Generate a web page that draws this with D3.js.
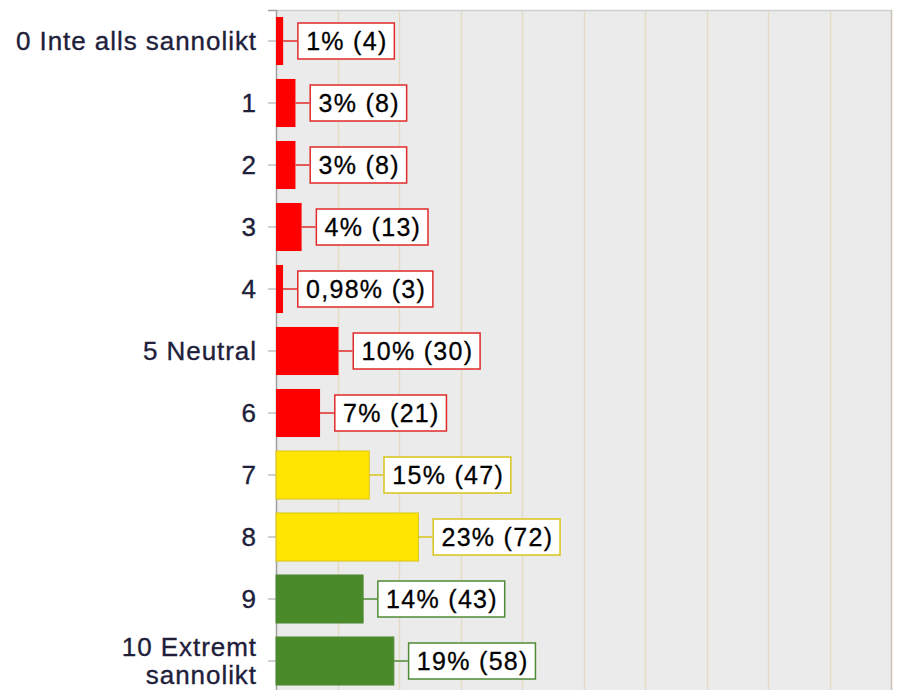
<!DOCTYPE html>
<html>
<head>
<meta charset="utf-8">
<script src="https://cdn.jsdelivr.net/npm/d3@7"></script>
<style>
  html, body { margin: 0; padding: 0; background: #ffffff; }
  svg { display: block; }
</style>
</head>
<body>
<svg id="chart" width="897" height="690"></svg>
<script>
// ---- data ----
const categories = ["0 Inte alls sannolikt", "1", "2", "3", "4", "5 Neutral", "6", "7", "8", "9", "10 Extremt sannolikt"];
const counts = [4, 8, 8, 13, 3, 30, 21, 47, 72, 43, 58];
const percents = [1, 3, 3, 4, 0.98, 10, 7, 15, 23, 14, 19];
const groups = ["red", "red", "red", "red", "red", "red", "red", "yellow", "yellow", "green", "green"];
const xTicks = [0, 10, 20, 30, 40, 50, 60, 70, 80, 90, 100];

const fills = { red: "#ff0000", yellow: "#ffe500", green: "#4a8a2a" };
const strokes = { red: "#e02a2a", yellow: "#d9c41a", green: "#4f8a36" };

const svg = d3.select("#chart");
const mLeft = 276, mRight = 891, mTop = 10, mBottom = 692;

const x = d3.scaleLinear().domain([0, 100]).range([mLeft, mRight]);
const y = d3.scaleBand().domain(categories).range([mTop, mBottom]).paddingInner(0.225).paddingOuter(0.1125);

// plot background
svg.append("rect").attr("x", mLeft).attr("y", mTop).attr("width", mRight - mLeft).attr("height", mBottom - mTop).attr("fill", "#ebebeb");

// gridlines
svg.append("g").selectAll("line").data(xTicks.slice(1, -1)).join("line")
  .attr("x1", d => Math.round(x(d)) + 0.5).attr("x2", d => Math.round(x(d)) + 0.5)
  .attr("y1", mTop).attr("y2", mBottom)
  .attr("stroke", "#e4dac6").attr("stroke-width", 1.5);

// top & right border
svg.append("line").attr("x1", mLeft).attr("x2", mRight + 1).attr("y1", mTop + 0.5).attr("y2", mTop + 0.5).attr("stroke", "#cfcfcf").attr("stroke-width", 1.5);
svg.append("line").attr("x1", mRight + 0.5).attr("x2", mRight + 0.5).attr("y1", mTop).attr("y2", mBottom).attr("stroke", "#c9c2b4").attr("stroke-width", 1.5);

// y axis
const yAxis = d3.axisLeft(y).tickSize(8).tickPadding(12).tickFormat(() => "");
const ga = svg.append("g").attr("transform", `translate(${mLeft},0)`).call(yAxis);
ga.select(".domain").attr("stroke", "#a0a0a0").attr("stroke-width", 1.5);
ga.selectAll(".tick line").attr("stroke", "#a0a0a0");

// category labels (manual wrap for long last label)
const labelFont = "'Liberation Sans', Arial, sans-serif";
const labG = svg.append("g");
categories.forEach((c, i) => {
  const cy = y(c) + y.bandwidth() / 2;
  let lines = [c];
  if (c === "10 Extremt sannolikt") lines = ["10 Extremt", "sannolikt"];
  const t = labG.append("text")
    .attr("text-anchor", "end")
    .attr("font-family", labelFont).attr("font-size", 26)
    .attr("letter-spacing", 0.95)
    .attr("fill", "#20203a")
    .attr("stroke", "#20203a").attr("stroke-width", 0.35);
  const lh = 28;
  lines.forEach((l, j) => {
    t.append("tspan").attr("x", 257)
      .attr("y", cy + (j - (lines.length - 1) / 2) * lh)
      .attr("dy", "0.35em").text(l);
  });
});

// bars
svg.append("g").selectAll("rect").data(categories).join("rect")
  .attr("x", x(0))
  .attr("y", d => y(d))
  .attr("width", (d, i) => x(percents[i]) - x(0) + 1)
  .attr("height", y.bandwidth())
  .attr("fill", (d, i) => fills[groups[i]])
  .attr("stroke", (d, i) => groups[i] === "red" ? "none" : strokes[groups[i]])
  .attr("stroke-width", 1);

// data labels
const dl = svg.append("g");
categories.forEach((c, i) => {
  const cy = y(c) + y.bandwidth() / 2;
  const x0 = x(percents[i]) + 1;
  const bx = x0 + 14;
  const col = strokes[groups[i]];
  const g = dl.append("g");
  g.append("line").attr("x1", x0).attr("x2", bx).attr("y1", cy).attr("y2", cy)
    .attr("stroke", col).attr("stroke-width", 1.5);
  const rect = g.append("rect");
  const t = g.append("text")
    .attr("x", bx + 9).attr("y", cy).attr("dy", "0.36em")
    .attr("font-family", labelFont).attr("font-size", 25)
    .attr("letter-spacing", 1.3)
    .attr("fill", "#000").attr("stroke", "#000").attr("stroke-width", 0.3)
    .text(`${String(percents[i]).replace(".", ",")}% (${counts[i]})`);
  const w = t.node().getComputedTextLength();
  rect.attr("x", bx + 0.75).attr("y", cy - 18).attr("width", w + 15).attr("height", 36)
    .attr("fill", "#ffffff").attr("stroke", col).attr("stroke-width", 1.5);
});
</script>
</body>
</html>
